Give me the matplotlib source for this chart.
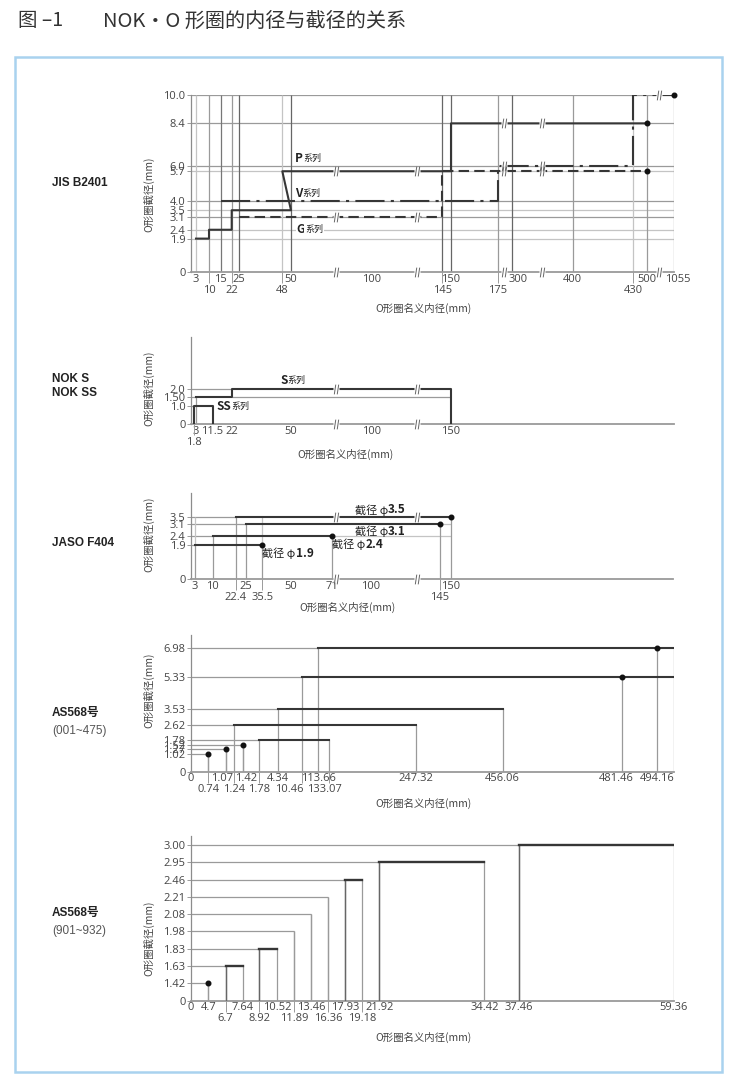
import numpy as np
import matplotlib
matplotlib.use("Agg")
import matplotlib.pyplot as plt
from matplotlib.patches import Rectangle
from matplotlib.path import Path
from matplotlib.transforms import ScaledTranslation

plt.rcParams['font.family'] = ['Open Sans', 'Noto Sans CJK SC', 'DejaVu Sans']
CJK = ['Noto Sans CJK SC', 'DejaVu Sans']
BOLD = ['Liberation Sans', 'Noto Sans CJK SC']

# ---------------- data ----------------
# JIS B2401
jis_cs = [0, 1.9, 2.4, 3.1, 3.5, 4.0, 5.7, 6.0, 8.4, 10.0]
jis_id_top = [3, 15, 25, 50, 100, 150, 300, 400, 500, 1055]
jis_id_bot = [10, 22, 48, 145, 175, 430]
jis_vlines = [3, 10, 15, 22, 25, 48, 50, 145, 150, 175, 300, 400, 430, 500, 1055]
p_x = [3, 10, 10, 22, 22, 50, 48, 150, 150, 500]
p_y = [1.9, 1.9, 2.4, 2.4, 3.5, 3.5, 5.7, 5.7, 8.4, 8.4]
v_x = [15, 175, 175, 430, 430, 1055]
v_y = [4.0, 4.0, 6.0, 6.0, 10.0, 10.0]
g_x = [25, 145, 145, 500]
g_y = [3.1, 3.1, 5.7, 5.7]

# NOK S / NOK SS
nok_cs = [0, 1.0, 1.5, 2.0]
nok_cs_labels = ['0', '1.0', '1.50', '2.0']
nok_id_top = [3, 11.5, 22, 50, 100, 150]
nok_id_bot = [1.8]
s_x = [3, 22, 22, 150, 150]
s_y = [1.5, 1.5, 2.0, 2.0, 0]
ss_x = [1.8, 1.8, 11.5, 11.5]
ss_y = [0, 1.0, 1.0, 0]

# JASO F404
jaso_cs = [1.9, 2.4, 3.1, 3.5]
jaso_start = [3, 10, 25, 22.4]
jaso_end = [35.5, 71, 145, 150]
jaso_id_top = [3, 10, 25, 50, 71, 100, 150]
jaso_id_bot = [22.4, 35.5, 145]

# AS568 (001~475)
as1_cs = [1.02, 1.27, 1.52, 1.78, 2.62, 3.53, 5.33, 6.98]
as1_start = [0.74, 1.07, 1.42, 1.78, 1.24, 4.34, 10.46, 113.66]
as1_end = [0.74, 1.07, 1.42, 133.07, 247.32, 456.06, 481.46, 494.16]
as1_id_top = [0, 1.07, 1.42, 4.34, 113.66, 247.32, 456.06, 481.46, 494.16]
as1_id_bot = [0.74, 1.24, 1.78, 10.46, 133.07]

# AS568 (901~932)
as2_cs = [1.42, 1.63, 1.83, 1.98, 2.08, 2.21, 2.46, 2.95, 3.00]
as2_start = [4.7, 6.7, 8.92, 11.89, 13.46, 16.36, 17.93, 21.92, 37.46]
as2_end = [4.7, 7.64, 10.52, 11.89, 13.46, 16.36, 19.18, 34.42, 59.36]
as2_id_top = [0, 4.7, 7.64, 10.52, 13.46, 17.93, 21.92, 34.42, 37.46, 59.36]
as2_id_bot = [6.7, 8.92, 11.89, 16.36, 19.18]

# ---------------- layout (axis scales, pixels) ----------------
W, H = 730, 1081
PXU = 17.73  # pixels per mm of cross section

jis_knot_v = [0, 3, 10, 15, 22, 25, 48, 50, 100, 145, 150, 175, 300, 400, 430, 500, 1055]
jis_knot_px = [191, 196, 209, 220.7, 231.7, 239.3, 282.3, 291, 371.7, 442.3, 451, 497.7,
               511.7, 572.7, 633.3, 646.7, 674.3]
jaso_knot_v = [0, 3, 10, 22.4, 25, 35.5, 50, 71, 100, 145, 150, 300]
jaso_knot_px = [191, 195, 212.7, 236, 245.7, 262.3, 291, 332, 371, 440, 451, 673]
as1_knot_v = [0, 0.74, 1.07, 1.24, 1.42, 1.78, 4.34, 10.46, 113.66, 133.07, 247.32,
              456.06, 481.46, 494.16, 500]
as1_knot_px = [191, 208.3, 225.7, 234.3, 242.7, 259.3, 278.3, 301.7, 318.3, 329.3, 416,
               502.7, 622.3, 656.7, 674]
as2_knot_v = [0, 4.7, 6.7, 7.64, 8.92, 10.52, 11.89, 13.46, 16.36, 17.93, 19.18, 21.92,
              34.42, 37.46, 59.36]
as2_knot_px = [191, 208.3, 225.7, 242.7, 259.3, 277, 294, 311.3, 328.3, 345, 362.3, 379.3,
               484.3, 519, 674]

DARK = '#363636'
GRAY = '#9a9a9a'
LIGHT = '#c4c4c4'
TXT = '#444444'
TICK = 8

fig = plt.figure(figsize=(W / 100, H / 100), dpi=100)


def ft(x, y, s, **kw):
    return fig.text(x / W, 1 - y / H, s, **kw)


def knot_scale(vals, pos):
    v = np.asarray(vals, float)
    p = np.asarray(pos, float)
    return (lambda a: np.interp(a, v, p)), (lambda a: np.interp(a, p, v))


def make_axes(xv, xp, ytop, ybot):
    ax = fig.add_axes([xp[0] / W, 1 - ybot / H, (xp[-1] - xp[0]) / W, (ybot - ytop) / H])
    ax.set_xscale('function', functions=knot_scale(xv, xp))
    ax.set_xlim(xv[0], xv[-1])
    for s in ['top', 'right']:
        ax.spines[s].set_visible(False)
    ax.spines['left'].set_color('#8c8c8c')
    ax.spines['left'].set_linewidth(0.9)
    ax.spines['bottom'].set_color('#9a9a9a')
    ax.spines['bottom'].set_linewidth(1.3)
    ax.patch.set_alpha(0)
    return ax


def fmt(v):
    return f"{v:g}"


def set_xticks(ax, top, bot):
    ax.set_xticks(top, [fmt(v) for v in top])
    ax.set_xticks(bot, [fmt(v) for v in bot], minor=True)
    ax.tick_params(axis='x', which='major', length=0, pad=1.2, labelsize=TICK, labelcolor=TXT)
    ax.tick_params(axis='x', which='minor', length=8, width=0.7, color=GRAY, pad=1.2,
                   labelsize=TICK, labelcolor=TXT)


def nudge(ax, value, dx, minor=False):
    # shift one crowded tick label sideways by dx pixels
    ticks = ax.xaxis.get_minor_ticks() if minor else ax.xaxis.get_major_ticks()
    locs = ax.xaxis.get_minorticklocs() if minor else ax.xaxis.get_majorticklocs()
    for t, loc in zip(ticks, locs):
        if np.isclose(loc, value):
            lab = t.label1
            lab.set_transform(lab.get_transform() + ScaledTranslation(dx / 100, 0, fig.dpi_scale_trans))


def set_yticks(ax, vals, labels):
    ax.set_yticks(vals, labels)
    ax.tick_params(axis='y', which='major', length=3, width=0.7, color=GRAY, pad=1,
                   labelsize=TICK, labelcolor=TXT)
    ax.tick_params(axis='y', which='minor', length=0)


brk = Path([(-0.45, -1), (-0.15, 1), (0.15, -1), (0.45, 1)],
           [Path.MOVETO, Path.LINETO, Path.MOVETO, Path.LINETO])


def breaks(ax, xs, ys):
    for x in xs:
        ax.plot([x] * len(ys), ys, ls='none', marker='s', ms=4.5, mfc='white', mec='none',
                zorder=6, clip_on=False)
        ax.plot([x] * len(ys), ys, ls='none', marker=brk, ms=7, mec='#666666', mew=0.7,
                zorder=7, clip_on=False)


def label_pair(ax, x, y, first, second, va, size1, size2, w1='bold', w2='normal', bg=False):
    box = dict(fc='white', ec='none', pad=0.6) if bg else None
    t = ax.text(x, y, first, fontsize=size1, fontweight=w1, family=CJK, color='#222',
                va=va, ha='left', zorder=8, bbox=box)
    ax.annotate(second, xy=(1, 0.5), xycoords=t, va='center', ha='left', fontsize=size2,
                fontweight=w2, family=CJK, color='#222', zorder=8, bbox=box)
    return t


# ---------------- title and frame ----------------
ft(18, 21, '图 –1', fontsize=14, family=CJK, color='#333', va='center')
ft(103, 21, 'NOK・O 形圈的内径与截径的关系', fontsize=14.5, family=CJK, color='#333', va='center')
fig.patches.append(Rectangle((15 / W, 1 - 1072 / H), (722 - 15) / W, (1072 - 57) / H,
                             transform=fig.transFigure, fill=False, ec='#a9d2ef', lw=1.8))

# ---------------- panel 1: JIS B2401 ----------------
ax1 = make_axes(jis_knot_v, jis_knot_px, 95, 272.3)
ax1.set_ylim(0, 10)
set_yticks(ax1, jis_cs, ['0'] + [f"{v:.1f}" for v in jis_cs[1:]])
set_xticks(ax1, jis_id_top, jis_id_bot)
nudge(ax1, 300, 6)
nudge(ax1, 1055, 3)
hcol = [LIGHT, LIGHT, GRAY, LIGHT, GRAY, LIGHT, GRAY, GRAY, GRAY]
ax1.hlines(jis_cs[1:], 0, 1055, colors=hcol, lw=0.9, zorder=1)
vcol = [LIGHT, GRAY, '#777', GRAY, '#666', LIGHT, '#666', '#666', '#666', GRAY, '#666',
        GRAY, LIGHT, GRAY, GRAY]
ax1.vlines(jis_vlines, 0, 10, colors=vcol, lw=0.9, zorder=1)
ax1.plot(p_x, p_y, color=DARK, lw=1.5, zorder=4)
ax1.plot(v_x, v_y, color=DARK, lw=1.5, dashes=(14, 3, 1.5, 3), zorder=4)
ax1.plot(g_x, g_y, color=DARK, lw=1.5, dashes=(5, 2.5), zorder=4)
ax1.plot([p_x[-1], g_x[-1], v_x[-1]], [p_y[-1], g_y[-1], v_y[-1]], 'o', ms=3.3,
         color='#111', zorder=5, clip_on=False)
label_pair(ax1, 52.5, 6.08, 'P', '系列', 'bottom', 8.5, 6.5)
label_pair(ax1, 52.5, 4.08, 'V', '系列', 'bottom', 8.5, 6.5)
label_pair(ax1, 53.5, 2.4, 'G', '系列', 'center', 8.5, 6.5, bg=True)
breaks(ax1, [78, 129], [0, 3.1, 5.7])
breaks(ax1, [231, 350], [0, 5.7, 6.0, 8.4])
breaks(ax1, [747], [0, 10.0])

# ---------------- panel 2: NOK S / SS ----------------
ax2 = make_axes(jis_knot_v, jis_knot_px, 337, 424)
ax2.set_ylim(0, 87 / PXU)
set_yticks(ax2, nok_cs, nok_cs_labels)
set_xticks(ax2, nok_id_top, nok_id_bot)
ax2.hlines([2.0, 1.5, 1.0], 0, [22, 3, 1.8], colors=GRAY, lw=0.9, zorder=1)
ax2.hlines(1.5, 22, 150, colors=GRAY, lw=0.9, zorder=1)
ax2.vlines(3, 0, 1.5, colors=GRAY, lw=0.9, zorder=1)
ax2.plot(s_x, s_y, color=DARK, lw=1.5, zorder=4)
ax2.plot(ss_x, ss_y, color=DARK, lw=1.5, zorder=4)
label_pair(ax2, 47, 2.08, 'S', '系列', 'bottom', 8.5, 6.5)
label_pair(ax2, 13.3, 1.0, 'SS', '系列', 'center', 8.5, 6.5)
breaks(ax2, [78, 129], [0, 2.0])

# ---------------- panel 3: JASO F404 ----------------
ax3 = make_axes(jaso_knot_v, jaso_knot_px, 493, 579)
ax3.set_ylim(0, 86 / PXU)
set_yticks(ax3, [0] + jaso_cs, ['0'] + [f"{v:.1f}" for v in jaso_cs])
set_xticks(ax3, jaso_id_top, jaso_id_bot)
for cs, a, b in zip(jaso_cs, jaso_start, jaso_end):
    ax3.hlines(cs, 0, a, colors=GRAY, lw=0.9, zorder=1)
    ax3.vlines([a, b], 0, cs, colors=GRAY, lw=0.9, zorder=1)
    if cs in (2.4, 3.1):
        ax3.hlines(cs, b, 150, colors=LIGHT, lw=0.9, zorder=1)
    ax3.plot([a, b], [cs, cs], color=DARK, lw=1.5, zorder=4)
ax3.plot(jaso_end, jaso_cs, 'o', ms=3.3, color='#111', zorder=5)
ax3.vlines([jaso_start[0], jaso_end[0]], jaso_cs[0], max(jaso_cs), colors=LIGHT, lw=0.9, zorder=1)
label_pair(ax3, 88, 3.58, '截径 φ', '3.5', 'bottom', 8, 8.5, w1='normal', w2='bold')
label_pair(ax3, 88, 3.0, '截径 φ', '3.1', 'top', 8, 8.5, w1='normal', w2='bold')
label_pair(ax3, 71, 2.28, '截径 φ', '2.4', 'top', 8, 8.5, w1='normal', w2='bold')
label_pair(ax3, 35.5, 1.78, '截径 φ', '1.9', 'top', 8, 8.5, w1='normal', w2='bold')
breaks(ax3, [74, 130], [0, 3.5])

# ---------------- panel 4: AS568 (001~475) ----------------
ax4 = make_axes(as1_knot_v, as1_knot_px, 635, 771.7)
ax4.set_ylim(0, 136.7 / PXU)
set_yticks(ax4, [0] + as1_cs, ['0'] + [f"{v:.2f}" for v in as1_cs])
set_xticks(ax4, as1_id_top, as1_id_bot)
nudge(ax4, 1.07, -3.5)
nudge(ax4, 1.42, 3)
nudge(ax4, 481.46, -6)
nudge(ax4, 10.46, -12, minor=True)
nudge(ax4, 133.07, -5, minor=True)
x4max = as1_knot_v[-1]
for cs, a, b in zip(as1_cs, as1_start, as1_end):
    ax4.hlines(cs, 0, a, colors=GRAY, lw=0.9, zorder=1)
    ax4.vlines([a, b], 0, cs, colors=GRAY, lw=0.9, zorder=2)
    if b > a:
        ax4.plot([a, b], [cs, cs], color=DARK, lw=1.5, zorder=4)
    if b == a or cs > 5:
        ax4.plot([b], [cs], 'o', ms=3.3, color='#111', zorder=5)
    if cs > 5:
        ax4.plot([b, x4max], [cs, cs], color=DARK, lw=1.5, zorder=4)
ax4.vlines(x4max, 0, max(as1_cs), colors=GRAY, lw=0.9, zorder=1)

# ---------------- panel 5: AS568 (901~932) ----------------
ax5 = make_axes(as2_knot_v, as2_knot_px, 836, 1000.7)
y5v = [0] + as2_cs + [3.05]
ax5.set_yscale('function', functions=knot_scale(y5v, list(range(len(as2_cs) + 1)) + [9.52]))
ax5.set_ylim(0, 3.05)
set_yticks(ax5, [0] + as2_cs, ['0'] + [f"{v:.2f}" for v in as2_cs])
set_xticks(ax5, as2_id_top, as2_id_bot)
for cs, a, b in zip(as2_cs, as2_start, as2_end):
    ax5.hlines(cs, 0, a, colors=GRAY, lw=0.9, zorder=1)
    ax5.vlines([a, b], 0, cs, colors=GRAY, lw=0.9, zorder=2)
    if b > a:
        ax5.plot([a, b], [cs, cs], color=DARK, lw=1.7, zorder=4)
        ax5.vlines(a, 0, cs, colors='#666', lw=1.0, zorder=3)
ax5.plot([as2_start[0]], [as2_cs[0]], 'o', ms=3.3, color='#111', zorder=5)

# ---------------- axis titles and row names ----------------
for y in [194, 388, 534, 690, 938]:
    ft(149, y, 'O形圈截径(mm)', fontsize=7.5, family=CJK, color=TXT, rotation=90,
       ha='center', va='center')
for x, y in [(424, 308), (346, 454), (347, 607), (423, 803), (423, 1037)]:
    ft(x, y, 'O形圈名义内径(mm)', fontsize=7.5, family=CJK, color=TXT, ha='center', va='center')

ft(52, 183, 'JIS B2401', fontsize=8.5, fontweight='bold', family=BOLD, color='#222', va='center')
ft(52, 379, 'NOK S', fontsize=8.5, fontweight='bold', family=BOLD, color='#222', va='center')
ft(52, 393, 'NOK SS', fontsize=8.5, fontweight='bold', family=BOLD, color='#222', va='center')
ft(52, 543, 'JASO F404', fontsize=8.5, fontweight='bold', family=BOLD, color='#222', va='center')
ft(52, 713, 'AS568号', fontsize=8.5, fontweight='bold', family=BOLD, color='#222', va='center')
ft(52, 731, '(001~475)', fontsize=8.5, family=BOLD, color='#555', va='center')
ft(52, 913, 'AS568号', fontsize=8.5, fontweight='bold', family=BOLD, color='#222', va='center')
ft(52, 931, '(901~932)', fontsize=8.5, family=BOLD, color='#555', va='center')

fig.savefig('out.png', dpi=100)
